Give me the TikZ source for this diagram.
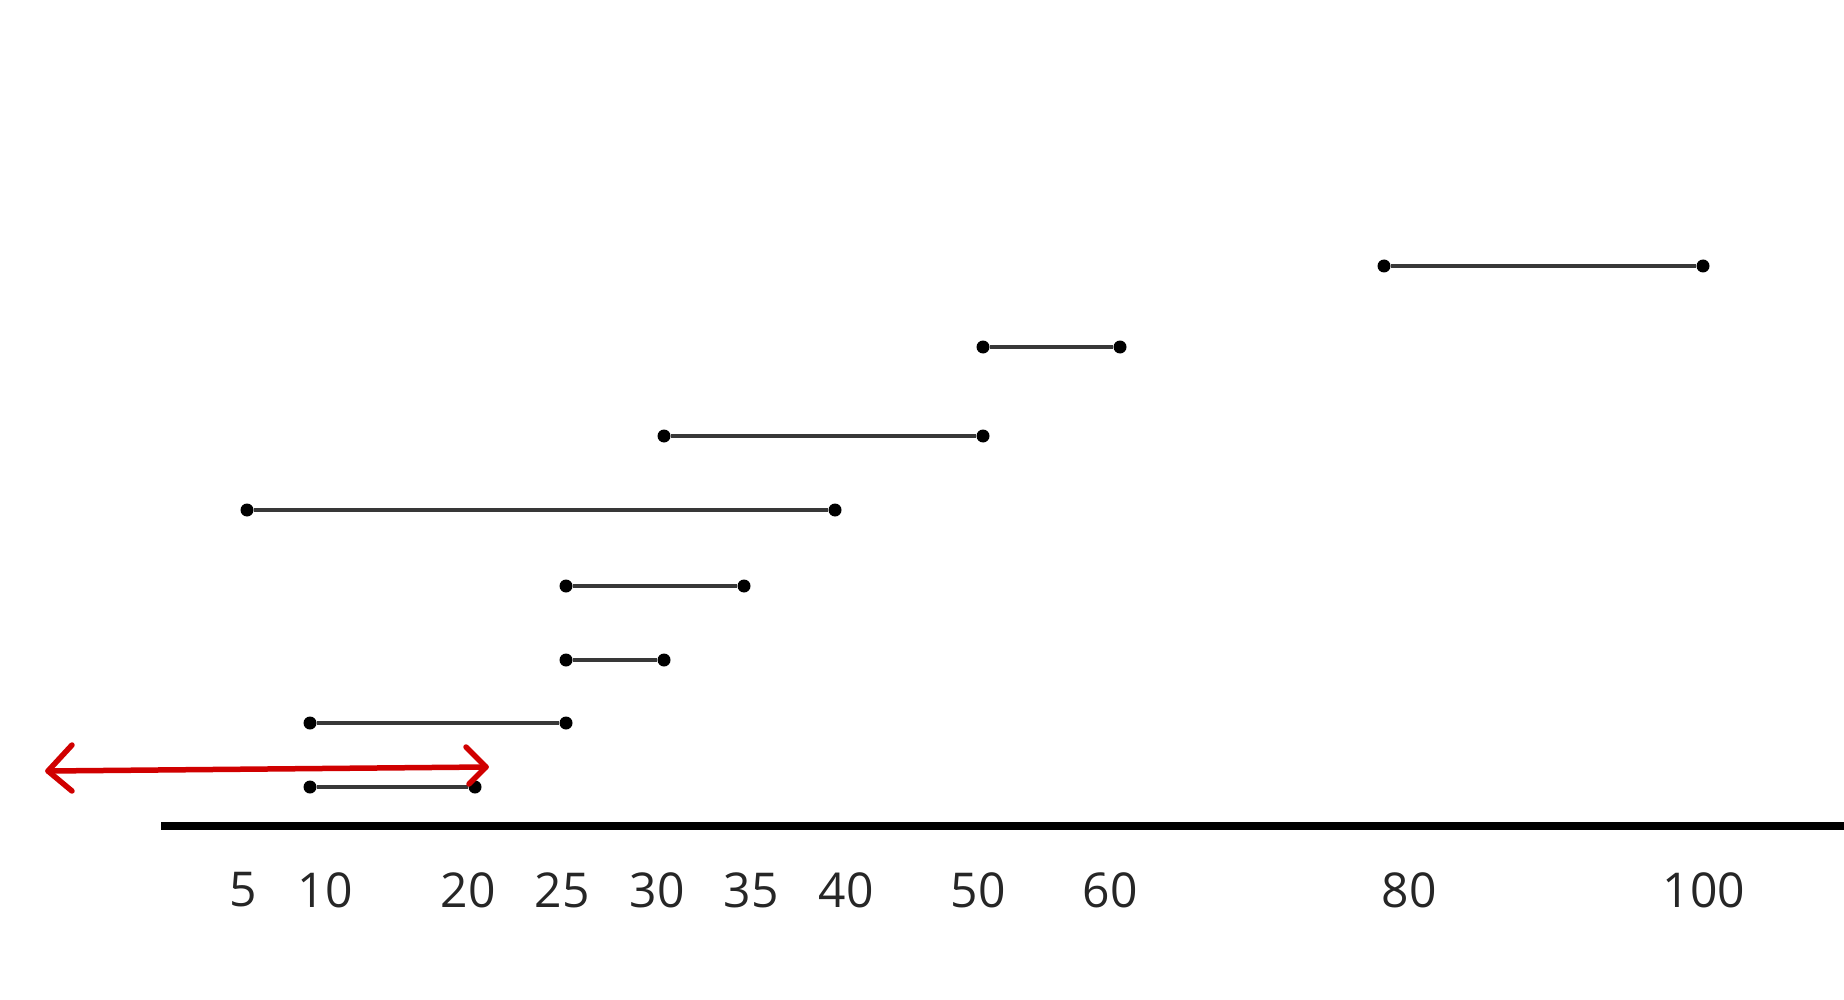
\documentclass[tikz,border=0pt]{standalone}
\usepackage{fontspec}
\setmainfont{Open Sans}
\definecolor{arrowred}{RGB}{208,0,0}
\tikzset{
  px/.style={x=1pt,y=-1pt},
  dotnode/.style={circle,fill=black,inner sep=0pt,minimum size=13pt},
  seg/.style={draw=black!78,line width=4pt},
  lbl/.style={font=\fontsize{48}{58}\selectfont,text=black!85,anchor=center},
  axisline/.style={line width=8pt,black},
  redline/.style={arrowred,line width=5.5pt,line cap=round,line join=round}
}
\begin{document}
\begin{tikzpicture}[px]
\useasboundingbox (0,0) rectangle (1844,1000);
% axis
\coordinate (axL) at (161,826);
\coordinate (axR) at (1844,826);
\draw[axisline] (axL) -- (axR);
% labels
\node[lbl] (l5)   at (243,890) {5};
\node[lbl] (l10)  at (325,890) {10};
\node[lbl] (l20)  at (468,890) {20};
\node[lbl] (l25)  at (562,890) {25};
\node[lbl] (l30)  at (657,890) {30};
\node[lbl] (l35)  at (751,890) {35};
\node[lbl] (l40)  at (846,890) {40};
\node[lbl] (l50)  at (978,890) {50};
\node[lbl] (l60)  at (1110,890) {60};
\node[lbl] (l80)  at (1409,890) {80};
\node[lbl] (l100) at (1704,890) {100};
% segments
\node[dotnode] (a1) at (310,787) {};
\node[dotnode] (a2) at (475,787) {};
\node[dotnode] (b1) at (310,723) {};
\node[dotnode] (b2) at (566,723) {};
\node[dotnode] (c1) at (566,660) {};
\node[dotnode] (c2) at (664,660) {};
\node[dotnode] (d1) at (566,586) {};
\node[dotnode] (d2) at (744,586) {};
\node[dotnode] (e1) at (247,510) {};
\node[dotnode] (e2) at (835,510) {};
\node[dotnode] (f1) at (664,436) {};
\node[dotnode] (f2) at (983,436) {};
\node[dotnode] (g1) at (983,347) {};
\node[dotnode] (g2) at (1120,347) {};
\node[dotnode] (h1) at (1384,266) {};
\node[dotnode] (h2) at (1703,266) {};
\draw[seg] (a1) -- (a2);
\draw[seg] (b1) -- (b2);
\draw[seg] (c1) -- (c2);
\draw[seg] (d1) -- (d2);
\draw[seg] (e1) -- (e2);
\draw[seg] (f1) -- (f2);
\draw[seg] (g1) -- (g2);
\draw[seg] (h1) -- (h2);
% red double arrow with open chevron heads
\coordinate (rL) at (48,771);
\coordinate (rR) at (486,767);
\draw[redline] (rL) -- (rR);
\draw[redline] (rL) ++(24,-26) -- (rL) -- ++(24,20);
\draw[redline] (rR) ++(-20,-20) -- (rR) -- ++(-17,17);
\end{tikzpicture}
\end{document}
